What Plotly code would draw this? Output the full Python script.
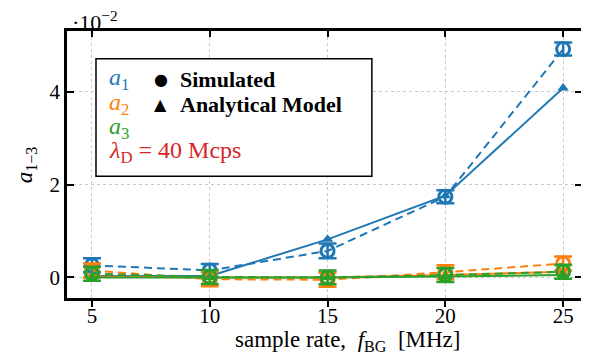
import plotly.graph_objects as go

# sample rate [MHz]
rates = [5, 10, 15, 20, 25]
x_ticks = [5, 10, 15, 20, 25]
y_ticks = [0, 2, 4]

# values in units of 1e-2
a1_sim = [0.26, 0.15, 0.57, 1.74, 4.92]
a1_sim_err = [0.15, 0.14, 0.16, 0.14, 0.14]
a1_model = [0.03, 0.03, 0.82, 1.76, 4.08]

a2_sim = [0.15, -0.04, -0.05, 0.11, 0.30]
a2_sim_err = [0.15, 0.15, 0.15, 0.15, 0.15]
a2_model = [0.02, 0.0, 0.0, 0.05, 0.12]

a3_sim = [0.08, 0.01, 0.0, 0.05, 0.12]
a3_sim_err = [0.15, 0.15, 0.15, 0.15, 0.15]
a3_model = [0.0, 0.0, 0.0, 0.02, 0.05]

BLUE = "#1f77b4"
ORANGE = "#ff7f0e"
GREEN = "#2ca02c"
RED = "#d62728"
FONT = "Liberation Serif, DejaVu Serif, serif"

fig = go.Figure()

series = [
    (a1_sim, a1_sim_err, a1_model, BLUE),
    (a2_sim, a2_sim_err, a2_model, ORANGE),
    (a3_sim, a3_sim_err, a3_model, GREEN),
]
for sim, err, model, col in series:
    fig.add_trace(go.Scatter(
        x=rates, y=model, mode="lines+markers",
        line=dict(color=col, width=2),
        marker=dict(symbol="triangle-up", size=10, color=col),
        showlegend=False, hoverinfo="skip"))
    fig.add_trace(go.Scatter(
        x=rates, y=sim, mode="lines+markers",
        line=dict(color=col, width=2, dash="8px,5px"),
        marker=dict(symbol="circle-open", size=13, color=col, line=dict(width=3, color=col)),
        error_y=dict(type="data", array=err, color=col, thickness=2.5, width=9),
        showlegend=False, hoverinfo="skip"))

# dummy trace for top axis
fig.add_trace(go.Scatter(x=[], y=[], xaxis="x2", showlegend=False))

axis_font = dict(family=FONT, size=21, color="black")

# page body has an 8px margin, so the figure is sized to fit the window
fig.update_layout(
    width=581, height=352,
    margin=dict(l=59, r=7, t=23, b=62, autoexpand=False),
    plot_bgcolor="white", paper_bgcolor="white",
    font=dict(family=FONT, size=20, color="black"),
    xaxis=dict(
        range=[3.94, 25.8], tickvals=x_ticks, ticks="outside", ticklen=6,
        tickwidth=1.5, tickcolor="black", tickfont=axis_font, ticklabelstandoff=-9,
        showline=True, linecolor="black", linewidth=2.5, mirror=True,
        showgrid=True, gridcolor="#c8c8c8", griddash="dot", gridwidth=1,
        zeroline=False, automargin=False,
    ),
    xaxis2=dict(
        range=[3.94, 25.8], overlaying="x", side="top", matches="x",
        tickvals=x_ticks, ticks="inside", ticklen=6, tickwidth=1.5, tickcolor="black",
        showticklabels=False, showgrid=False, zeroline=False, showline=False,
        automargin=False,
    ),
    yaxis=dict(
        range=[-0.444, 5.31], tickvals=y_ticks, ticks="inside", ticklen=7,
        tickwidth=1.5, tickcolor="black", tickfont=axis_font,
        showline=True, linecolor="black", linewidth=2.5, mirror="ticks",
        showgrid=True, gridcolor="#c8c8c8", griddash="dot", gridwidth=1,
        zeroline=False, automargin=False,
    ),
)

# axis titles
fig.add_annotation(xref="paper", yref="paper", x=0.545, y=-0.1, xanchor="center", yanchor="top",
                   showarrow=False, text="sample rate,  <i>f</i><sub>BG</sub>  [MHz]",
                   font=dict(family=FONT, size=23, color="black"))
fig.add_annotation(xref="paper", yref="paper", x=-0.08, y=0.5, xanchor="center", yanchor="middle",
                   showarrow=False, textangle=-90, text="<i>a</i><sub>1−3</sub>",
                   font=dict(family=FONT, size=23, color="black"))

# exponent label
fig.add_annotation(xref="paper", yref="paper", x=0.0, y=1.0, xanchor="left", yanchor="bottom",
                   xshift=3, yshift=-6, showarrow=False,
                   text="·10<sup>−2</sup>", font=dict(family=FONT, size=22, color="black"))

# legend box
fig.add_shape(type="rect", xref="paper", yref="paper", x0=0.0563, x1=0.592, y0=0.456, y1=0.896,
              line=dict(color="black", width=1.5), fillcolor="white", layer="above")

rows_y = [0.819, 0.726, 0.637, 0.548]
labels = [("<i>a</i><sub>1</sub>", BLUE), ("<i>a</i><sub>2</sub>", ORANGE), ("<i>a</i><sub>3</sub>", GREEN),
          ("<i>λ</i><sub>D</sub> = 40 Mcps", RED)]
for (txt, col), yy in zip(labels, rows_y):
    fig.add_annotation(xref="paper", yref="paper", x=0.0777, y=yy, xanchor="left", yanchor="middle",
                       showarrow=False, text=txt, font=dict(family=FONT, size=24, color=col))

sym_rows = [("●", "Simulated"), ("▲", "Analytical Model")]
for (sym, txt), yy in zip(sym_rows, rows_y[:2]):
    fig.add_annotation(xref="paper", yref="paper", x=0.182, y=yy, xanchor="center", yanchor="middle",
                       showarrow=False, text=sym, font=dict(family="DejaVu Sans", size=16, color="black"))
    fig.add_annotation(xref="paper", yref="paper", x=0.2155, y=yy, xanchor="left", yanchor="middle",
                       showarrow=False, text="<b>" + txt + "</b>", font=dict(family=FONT, size=22, color="black"))

fig.write_html("out.html")
